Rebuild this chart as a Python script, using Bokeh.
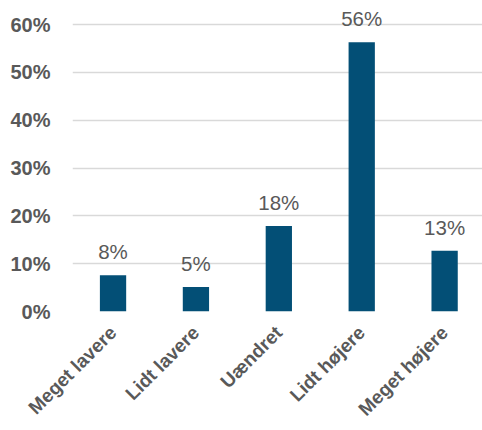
import math
from bokeh.plotting import figure
from bokeh.models import Range1d, FixedTicker, NumeralTickFormatter, ColumnDataSource, LabelSet
from bokeh.core.properties import value
from bokeh.embed import file_html
from bokeh.resources import INLINE

categories = ["Meget lavere", "Lidt lavere", "Uændret", "Lidt højere", "Meget højere"]
values = [0.076, 0.051, 0.179, 0.563, 0.127]
y_ticks = [0, 0.1, 0.2, 0.3, 0.4, 0.5, 0.6]

xs = list(range(len(categories)))
labels = [f"{round(v * 100)}%" for v in values]
src = ColumnDataSource(dict(x=xs, top=values, label=labels))

FONT = "Liberation Sans"
GRAY = "#595959"
BAR = "#034F76"

p = figure(width=482, height=430, output_backend="svg", toolbar_location=None,
           x_range=Range1d(-0.489, 4.457), y_range=Range1d(0, 0.6505),
           min_border_left=72, min_border_right=0, min_border_top=0, min_border_bottom=110)
p.outline_line_color = None
p.background_fill_color = "white"
p.border_fill_color = "white"

p.vbar(x="x", top="top", width=0.317, bottom=0, source=src, fill_color=BAR, line_color=None)

p.add_layout(LabelSet(x="x", y="top", text="label", source=src, text_align="center",
                      text_baseline="alphabetic", y_offset=16, text_font=value(FONT),
                      text_font_size="20.5px", text_color=GRAY))

p.xgrid.grid_line_color = None
p.ygrid.grid_line_color = "#d9d9d9"
p.ygrid.grid_line_width = 1.5
p.ygrid.ticker = FixedTicker(ticks=y_ticks)

p.yaxis.ticker = FixedTicker(ticks=y_ticks)
p.yaxis.formatter = NumeralTickFormatter(format="0%")
p.xaxis.ticker = FixedTicker(ticks=xs)
p.xaxis.major_label_overrides = {i: c for i, c in zip(xs, categories)}
p.xaxis.major_label_orientation = math.pi / 4

for ax in (p.xaxis, p.yaxis):
    ax.axis_line_color = None
    ax.major_tick_line_color = None
    ax.minor_tick_line_color = None
    ax.major_label_text_font = FONT
    ax.major_label_text_font_style = "bold"
    ax.major_label_text_font_size = "20px"
    ax.major_label_text_color = GRAY
p.xaxis.major_label_text_font_size = "19px"
p.yaxis.major_label_standoff = 16
p.xaxis.major_label_standoff = 12

open("out.html", "w").write(file_html(p, INLINE))
